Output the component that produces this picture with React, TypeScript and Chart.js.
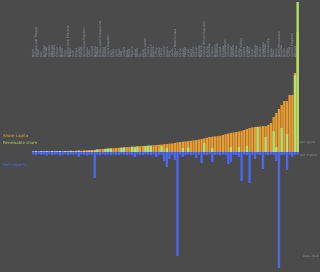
import React, { useEffect, useRef } from "react";
import { Chart, registerables } from "chart.js";

Chart.register(...registerables);

const categories: string[] = [
  "Niger", "Trinidad and Tobago", "Chad", "Mali", "Burundi", "Malawi", "Uganda", "Rwanda", "Somalia", "Eritrea",
  "Guinea", "Benin", "Togo", "United Arab Emirates", "Nepal", "Haiti", "Kenya", "Sudan", "Yemen", "Dominican Republic",
  "Ghana", "Laos", "Zambia", "Nigeria", "Angola", "Bosnia and Herzegovina", "Bolivia", "Gabon", "Czech Republic", "Peru",
  "Cuba", "Syria", "Egypt", "Iraq", "Jordan", "India", "Brazil", "Mexico", "Libya", "Oman",
  "Fiji", "Chile", "Sierra Leone", "Tunisia", "Morocco", "Algeria", "Turkey", "Serbia", "Latvia", "Croatia",
  "Greece", "Italy", "Spain", "Papua New Guinea", "Iran", "China", "Japan", "Poland", "Israel", "Malta",
  "Cyprus", "Russia", "Ukraine", "Belarus", "Central African Republic", "Austria", "Germany", "France", "Belgium", "Denmark",
  "Ireland", "Estonia", "Kazakhstan", "Slovenia", "Finland", "Sweden", "Norway", "Korea", "Saudi Arabia", "Taiwan",
  "Canada", "Kuwait", "Qatar", "Bahrain", "Iceland", "Brunei", "Singapore", "Australia", "Luxembourg", "Aruba",
  "Palau", "Nauru", "North Macedonia", "Guyana", "Belize", "Tonga", "Samoa", "United Kingdom", "Bhutan", "Paraguay",
];

const orangeValues: number[] = [
  0.6, 0.5, 0.7, 0.6, 0.8, 0.7, 0.6, 0.9, 0.8, 0.7,
  0.9, 0.8, 1.0, 0.9, 1.1, 1.0, 1.2, 1.3, 1.2, 1.5,
  1.6, 1.8, 2.0, 2.2, 2.5, 2.8, 3.0, 3.1, 3.4, 3.6,
  3.8, 4.0, 4.2, 4.4, 4.6, 4.9, 5.1, 5.3, 5.5, 5.7,
  5.8, 6.0, 6.2, 6.4, 6.6, 6.8, 7.0, 7.2, 7.5, 7.8,
  8.0, 8.3, 8.6, 9.0, 9.6, 10.0, 10.3, 10.6, 10.9, 11.2,
  11.6, 12.0, 12.4, 13.0, 13.6, 14.2, 15.0, 15.3, 15.6, 15.9,
  16.2, 17.0, 17.8, 18.5, 19.0, 19.5, 20.0, 20.5, 21.2, 22.0,
  23.0, 24.0, 24.6, 25.0, 25.3, 25.6, 25.9, 26.0, 27.0, 29.0,
  35.0, 39.0, 43.0, 47.0, 51.0, 51.0, 57.0, 57.0, 79.0, 120.0,
];

const greenValues: number[] = [
  0.5, 0.8, 0.3, 0.9, 0.4, 0.9, 0.5, 1.0, 0.4, 0.8,
  1.0, 0.4, 1.1, 0.5, 1.2, 0.6, 0.7, 1.3, 0.5, 0.8,
  0.9, 1.2, 0.8, 1.0, 2.6, 0, 0, 3.2, 3.5, 3.6,
  0, 0, 0, 4.3, 4.5, 0, 0, 5.2, 4.5, 5.6,
  0, 0, 6.1, 6.3, 6.2, 0, 0, 0, 6.2, 0,
  4.0, 0, 0, 0, 0, 0, 4.1, 0, 4.3, 0,
  0, 0, 0, 0, 9.0, 0, 0, 4.0, 0, 0,
  0, 0, 0, 0, 5.0, 0, 0, 5.0, 0, 0,
  6.0, 0, 0, 0, 25.0, 0, 0, 15.0, 0, 0,
  21.0, 5.0, 0, 24.0, 0, 18.0, 0, 0, 77.0, 150.0,
];

const blueValues: number[] = [
  -2.4, -2.8, -2.2, -3.0, -2.5, -3.5, -2.3, -2.9, -2.6, -2.4,
  -3.5, -2.7, -2.3, -3.0, -2.5, -2.8, -2.4, -5.0, -2.6, -2.9,
  -3.5, -2.5, -2.8, -26.0, -2.7, -3.0, -2.4, -2.9, -2.6, -3.1,
  -2.5, -2.8, -3.0, -2.4, -2.7, -3.2, -2.5, -2.9, -5.0, -2.6,
  -2.8, -3.0, -2.4, -2.7, -3.1, -2.5, -5.0, -2.8, -2.6, -9.0,
  -15.0, -7.0, -2.7, -8.0, -104.0, -2.6, -5.0, -2.9, -2.5, -3.0,
  -2.7, -6.0, -2.8, -11.0, -2.6, -3.0, -2.5, -10.0, -2.9, -2.7,
  -3.1, -2.6, -2.8, -12.0, -10.0, -2.7, -2.9, -5.0, -29.0, -2.6,
  -3.0, -31.0, -2.8, -7.0, -2.5, -2.9, -17.0, -2.7, -3.0, -2.6,
  -2.8, -9.0, -116.0, -3.0, -2.7, -18.0, -2.9, -5.0, -2.6, -2.5,
];

const legendTexts: string[] = ["Share capita", "Renewable share", "Net imports"];
const sideTexts: string[] = ["per capita", "net imports", "Data 2019"];

const ORANGE = "#e89b30";
const GREEN = "#b4e06c";
const BLUE = "#4a68ee";

const overlayPlugin = {
  id: "overlayText",
  beforeDatasetsDraw(chart: any) {
    const ctx = chart.ctx;
    const xs = chart.scales.x;
    ctx.save();
    ctx.font = "3px 'DejaVu Sans', sans-serif";
    ctx.fillStyle = "#8f98a4";
    ctx.textAlign = "left";
    ctx.textBaseline = "middle";
    categories.forEach((name, i) => {
      const x = xs.getPixelForValue(i);
      ctx.save();
      ctx.translate(x, 57);
      ctx.rotate(-Math.PI / 2);
      ctx.fillText(name, 0, 0);
      ctx.restore();
    });
    ctx.restore();
  },
  afterDraw(chart: any) {
    const ctx = chart.ctx;
    ctx.save();
    ctx.textAlign = "left";
    ctx.textBaseline = "middle";
    ctx.font = "4px 'DejaVu Sans', sans-serif";
    ctx.fillStyle = "#e0a040";
    ctx.fillText(legendTexts[0], 3, 136);
    ctx.fillStyle = "#9ccc5a";
    ctx.fillText(legendTexts[1], 3, 143);
    ctx.fillStyle = "#4c6ae6";
    ctx.fillText(legendTexts[2], 3, 165);
    ctx.font = "3px 'DejaVu Sans', sans-serif";
    ctx.fillStyle = "#8c8c8c";
    ctx.fillText(sideTexts[0], 300, 142);
    ctx.fillText(sideTexts[1], 300, 155);
    ctx.fillText(sideTexts[2], 303, 256);
    ctx.restore();
  },
};

export default function App() {
  const ref = useRef<HTMLCanvasElement | null>(null);
  useEffect(() => {
    if (!ref.current) return;
    const common = { barPercentage: 0.88, categoryPercentage: 1, grouped: false, borderWidth: 0 };
    const chart = new Chart(ref.current, {
      type: "bar",
      data: {
        labels: categories,
        datasets: [
          { label: legendTexts[1], data: greenValues, backgroundColor: GREEN, ...common },
          { label: legendTexts[0], data: orangeValues, backgroundColor: ORANGE, ...common },
          { label: legendTexts[2], data: blueValues, backgroundColor: BLUE, ...common },
        ],
      },
      options: {
        responsive: false,
        animation: false,
        devicePixelRatio: 1,
        layout: { padding: { left: 32, right: 21, top: 2, bottom: 2 } },
        scales: {
          x: { display: false, offset: true },
          y: { display: false, min: -118, max: 150 },
        },
        plugins: { legend: { display: false }, tooltip: { enabled: false } },
      },
      plugins: [overlayPlugin],
    } as any);
    return () => chart.destroy();
  }, []);
  return (
    <div style={{ position: "fixed", left: 0, top: 0, width: 320, height: 272, background: "#4b4b4b" }}>
      <canvas ref={ref} width={320} height={272} style={{ display: "block" }} />
    </div>
  );
}
